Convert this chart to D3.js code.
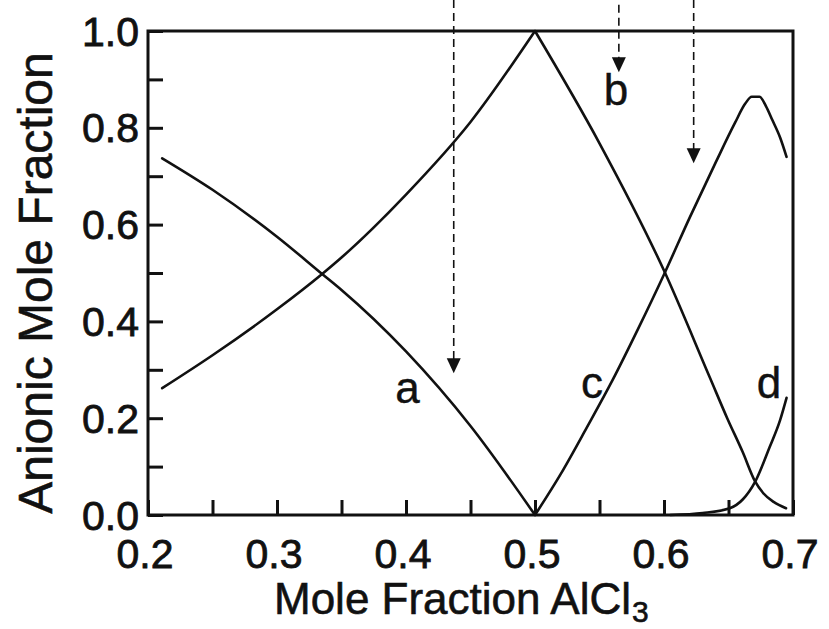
<!DOCTYPE html>
<html>
<head>
<meta charset="utf-8">
<script src="https://cdn.jsdelivr.net/npm/d3@7"></script>
<style>
  html, body { margin: 0; padding: 0; background: #fff; }
  svg { display: block; }
  text { font-family: "Liberation Sans", Arial, Helvetica, sans-serif; fill: #111; }
</style>
</head>
<body>
<svg id="chart" width="829" height="629"></svg>
<script>
// ---- data ----
const xTicksMajor = [0.2, 0.3, 0.4, 0.5, 0.6, 0.7];
const xTicksMinor = [0.25, 0.35, 0.45, 0.55, 0.65];
const yTicksMajor = [0.0, 0.2, 0.4, 0.6, 0.8, 1.0];
const yTicksMinor = [0.1, 0.3, 0.5, 0.7, 0.9];

// curve a (Cl-)
const aX = [0.211, 0.25, 0.30, 0.335, 0.35, 0.40, 0.45, 0.50];
const aY = [0.737, 0.672, 0.575, 0.498, 0.465, 0.338, 0.184, 0.0];

// curve b (AlCl4-), rising branch and falling branch
const bLeftX = [0.211, 0.25, 0.30, 0.335, 0.35, 0.40, 0.45, 0.50];
const bLeftY = [0.262, 0.330, 0.425, 0.498, 0.532, 0.662, 0.812, 1.0];
const bRightX = [0.50, 0.55, 0.60, 0.6357, 0.649, 0.661, 0.6705, 0.677, 0.685, 0.6946];
const bRightY = [1.0, 0.768, 0.505, 0.283, 0.200, 0.130, 0.070, 0.045, 0.027, 0.014];

// curve c (Al2Cl7-)
const cX = [0.50, 0.52, 0.54, 0.56, 0.58, 0.60, 0.62, 0.64, 0.655, 0.663, 0.668, 0.674, 0.679, 0.684, 0.690, 0.695];
const cY = [0.0, 0.085, 0.180, 0.278, 0.385, 0.497, 0.615, 0.728, 0.810, 0.850, 0.864, 0.864, 0.845, 0.816, 0.780, 0.740];

// curve d (Al3Cl10-)
const dX = [0.605, 0.63, 0.651, 0.661, 0.6705, 0.682, 0.690, 0.695];
const dY = [0.0, 0.004, 0.014, 0.032, 0.068, 0.141, 0.196, 0.242];

// curve labels
const labelText = ["a", "b", "c", "d"];
const labelX = [0.4012, 0.5628, 0.5442, 0.6814];
const labelY = [0.231, 0.847, 0.242, 0.242];

// dashed arrows
const arrowX = [0.437, 0.565, 0.623];
const arrowTop = [1.064, 1.054, 1.064];
const arrowTip = [0.293, 0.915, 0.727];

// ---- drawing ----
const svg = d3.select("#chart");
svg.append("rect").attr("width", 829).attr("height", 629).attr("fill", "#fff");

const x = d3.scaleLinear().domain([0.2, 0.7]).range([148, 793]);
const y = d3.scaleLinear().domain([0, 1]).range([515, 31]);

const ink = "#111";

// curves
const line = d3.line().x(d => x(d[0])).y(d => y(d[1])).curve(d3.curveMonotoneX);
const zip = (xs, ys) => xs.map((v, i) => [v, ys[i]]);
const series = [zip(aX, aY), zip(bLeftX, bLeftY), zip(bRightX, bRightY), zip(cX, cY), zip(dX, dY)];
svg.append("g").selectAll("path").data(series).join("path")
  .attr("d", line)
  .attr("fill", "none")
  .attr("stroke", ink)
  .attr("stroke-width", 2.6)
  .attr("stroke-linejoin", "round")
  .attr("stroke-linecap", "round");

// axes (ticks inward)
const fmt = d3.format(".1f");
const xAxis = d3.axisBottom(x).tickValues(xTicksMajor.concat(xTicksMinor)).tickSize(-15).tickFormat(() => "");
const yAxis = d3.axisLeft(y).tickValues(yTicksMajor.concat(yTicksMinor)).tickSize(-15).tickFormat(() => "");

const gx = svg.append("g").attr("transform", "translate(0,515)").call(xAxis);
const gy = svg.append("g").attr("transform", "translate(148,0)").call(yAxis);
[gx, gy].forEach(g => {
  g.select(".domain").remove();
  g.selectAll(".tick line").attr("stroke", ink).attr("stroke-width", 3);
});

// frame
svg.append("rect")
  .attr("x", x(0.2)).attr("y", y(1))
  .attr("width", x(0.7) - x(0.2)).attr("height", y(0) - y(1))
  .attr("fill", "none").attr("stroke", ink).attr("stroke-width", 3);

// tick labels
svg.append("g").selectAll("text").data(xTicksMajor).join("text")
  .attr("x", d => x(d) - 3)
  .attr("y", 568)
  .attr("text-anchor", "middle")
  .attr("font-size", 41)
  .attr("stroke", ink).attr("stroke-width", 0.8)
  .text(d => fmt(d));

svg.append("g").selectAll("text").data(yTicksMajor).join("text")
  .attr("x", 139)
  .attr("y", d => y(d) + 14.5)
  .attr("text-anchor", "end")
  .attr("font-size", 41)
  .attr("stroke", ink).attr("stroke-width", 0.8)
  .text(d => fmt(d));

// axis titles
const xt = svg.append("text")
  .attr("x", 274).attr("y", 614)
  .attr("font-size", 44)
  .attr("stroke", ink).attr("stroke-width", 0.6);
xt.append("tspan").text("Mole Fraction AlCl");
xt.append("tspan").attr("dx", 1).attr("dy", 8).attr("font-size", 30).text("3");

svg.append("text")
  .attr("transform", "translate(52,283) rotate(-90)")
  .attr("text-anchor", "middle")
  .attr("font-size", 48)
  .attr("stroke", ink).attr("stroke-width", 0.6)
  .text("Anionic Mole Fraction");

// curve labels
svg.append("g").selectAll("text").data(labelText).join("text")
  .attr("x", (d, i) => x(labelX[i]))
  .attr("y", (d, i) => y(labelY[i]))
  .attr("text-anchor", "middle")
  .attr("font-size", 44)
  .attr("stroke", ink).attr("stroke-width", 0.4)
  .text(d => d);

// dashed arrows
const arrows = svg.append("g");
arrowX.forEach((ax, i) => {
  const px = x(ax), tip = y(arrowTip[i]);
  arrows.append("line")
    .attr("x1", px).attr("x2", px)
    .attr("y1", y(arrowTop[i])).attr("y2", tip - 12)
    .attr("stroke", ink).attr("stroke-width", 1.6)
    .attr("stroke-dasharray", "8,5");
  arrows.append("path")
    .attr("d", `M${px - 7},${tip - 15} L${px + 7},${tip - 15} L${px},${tip} Z`)
    .attr("fill", ink);
});
</script>
</body>
</html>
